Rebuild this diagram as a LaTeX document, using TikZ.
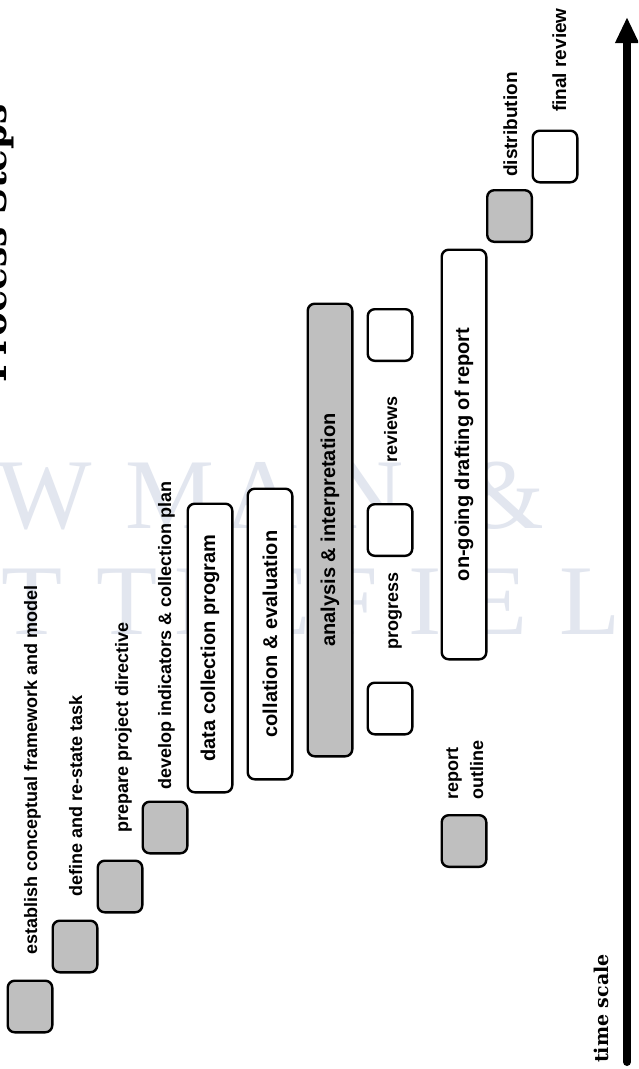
\documentclass[tikz,border=0pt]{standalone}
\usepackage{fontspec}
\setmainfont{Liberation Sans}
\newfontfamily\slabfont{DejaVu Serif}
\newfontfamily\markfont{Liberation Serif}
\usetikzlibrary{arrows.meta}
\definecolor{shade}{gray}{0.75}
\definecolor{markcol}{RGB}{226,230,239}
\begin{document}
\begin{tikzpicture}[x=1pt,y=-1pt,
  box/.style={draw=black, line width=2.4pt, rounded corners=7pt, inner sep=0pt},
  shaded/.style={box, fill=shade},
  plain/.style={box, fill=white},
  sq/.style={minimum width=44.6pt, minimum height=51.6pt},
  bar/.style={rotate=90, minimum height=44.6pt, font=\bfseries\fontsize{20}{22}\selectfont},
  lbl/.style={rotate=90, anchor=base west, inner sep=0pt, font=\bfseries\fontsize{18}{20}\selectfont},
  biglbl/.style={lbl, font=\bfseries\fontsize{19}{21}\selectfont},
  wmletter/.style={text=markcol, anchor=base, inner sep=0pt, font=\markfont\fontsize{100}{100}\selectfont},
  heading/.style={rotate=90, anchor=base west, inner sep=0pt, font=\slabfont\bfseries\fontsize{36}{40}\selectfont},
  scalelbl/.style={rotate=90, anchor=base west, inner sep=0pt, font=\slabfont\bfseries\fontsize{19}{21}\selectfont}
]
% page
\fill[white] (0,0) rectangle (638,1069);
\useasboundingbox (0,0) rectangle (638,1069);
\clip (0,0) rectangle (638,1069);

% faint publisher mark in the background
\foreach \ch/\px in {R/-140, O/-45, W/45, M/170, A/262, N/368, \&/505}
  \node[wmletter] at (\px,528) {\ch};
\foreach \ch/\px in {L/-130, I/-45, T/32, T/127, L/205, E/280, F/350, I/425, E/497, L/590, D/690}
  \node[wmletter] at (\px,634) {\ch};

% heading
\node[heading] (title) at (6,383) {Process Steps};

% planning steps
\node[shaded, sq] (s1) at (30,1006.5) {};
\node[shaded, sq] (s2) at (75,946.5) {};
\node[shaded, sq] (s3) at (120,886.5) {};
\node[shaded, sq] (s4) at (165,827.5) {};
\node[lbl] (l1) at (37,955) {establish conceptual framework and model};
\node[lbl] (l2) at (82,897) {define and re-state task};
\node[lbl] (l3) at (128,833) {prepare project directive};
\node[lbl] (l4) at (171,790) {develop indicators \& collection plan};

% long-running activities
\node[plain, bar, minimum width=288.6pt] (collect) at (210,648) {data collection program};
\node[plain, bar, minimum width=290.6pt] (collate) at (270,634) {collation \& evaluation};
\node[shaded, bar, minimum width=452.6pt] (analysis) at (330,530) {analysis \& interpretation};

% progress reviews
\node[plain, sq] (r1) at (390,708.5) {};
\node[plain, sq] (r2) at (390,530) {};
\node[plain, sq] (r3) at (390,335) {};
\node[lbl] (lprog) at (398,650) {progress};
\node[lbl] (lrev) at (397,463) {reviews};

% reporting
\node[shaded, sq] (outline) at (464,841) {};
\node[lbl] (lout1) at (458,800) {report};
\node[lbl] (lout2) at (483,800) {outline};
\node[plain, bar, minimum width=409.6pt] (draft) at (464,454.5) {on-going drafting of report};
\node[shaded, sq] (dist) at (509.5,216) {};
\node[biglbl] (ldist) at (517,177) {distribution};
\node[plain, sq] (final) at (555,156.5) {};
\node[biglbl] (lfinal) at (566,112) {final review};

% time axis
\coordinate (t0) at (627,1062);
\coordinate (t1) at (627,17);
\draw[line width=8pt, line cap=round, -{Triangle[length=26pt, width=22pt]}] (t0) -- (t1);
\node[scalelbl] (ltime) at (608,1063) {time scale};
\end{tikzpicture}
\end{document}
